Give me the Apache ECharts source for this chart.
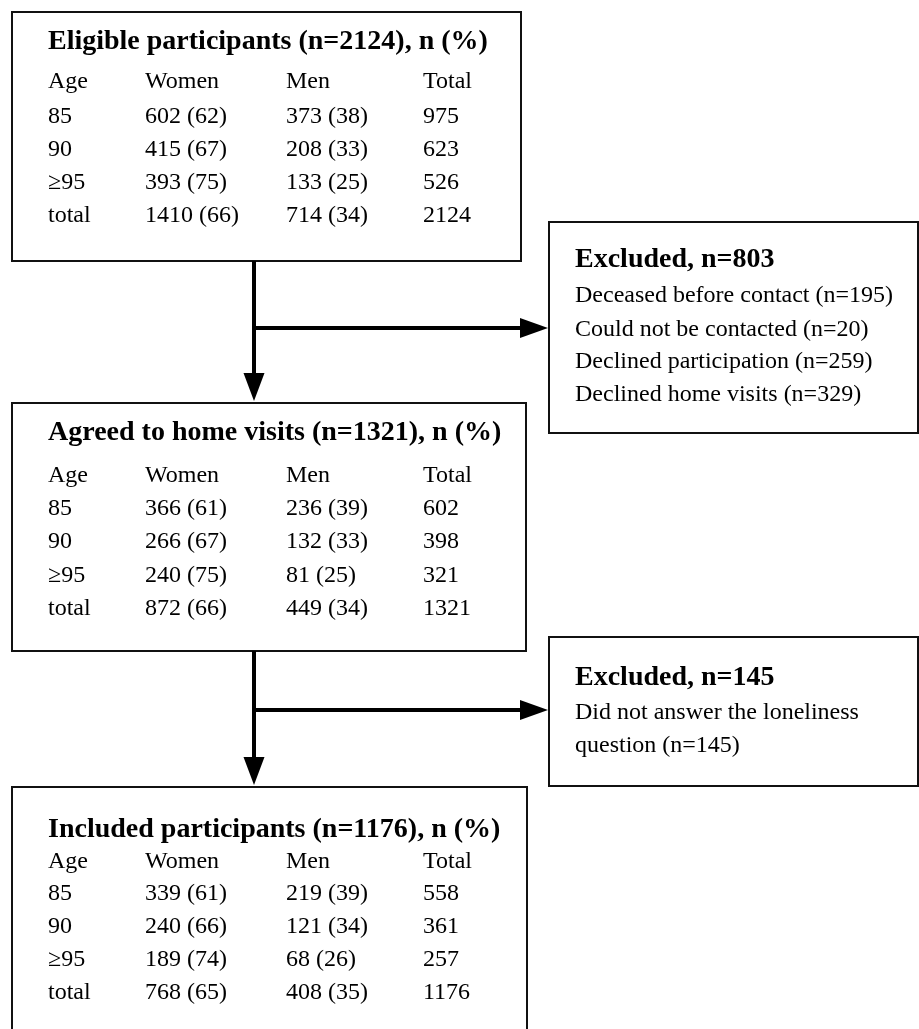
<!DOCTYPE html>
<html>
<head>
<meta charset="utf-8">
<script src="https://cdn.jsdelivr.net/npm/echarts@6/dist/echarts.min.js"></script>
<style>
html,body{margin:0;padding:0;background:#fff;}
#main{width:919px;height:1029px;}
</style>
</head>
<body>
<div id="main"></div>
<script>
// ---- data ----
const columnHeaders = ['Age', 'Women', 'Men', 'Total'];
const ageGroups = ['85', '90', '\u226595', 'total'];

const eligibleTitle = 'Eligible participants (n=2124), n (%)';
const eligibleWomen = [602, 415, 393, 1410];
const eligibleWomenPct = [62, 67, 75, 66];
const eligibleMen = [373, 208, 133, 714];
const eligibleMenPct = [38, 33, 25, 34];
const eligibleTotal = [975, 623, 526, 2124];

const agreedTitle = 'Agreed to home visits (n=1321), n (%)';
const agreedWomen = [366, 266, 240, 872];
const agreedWomenPct = [61, 67, 75, 66];
const agreedMen = [236, 132, 81, 449];
const agreedMenPct = [39, 33, 25, 34];
const agreedTotal = [602, 398, 321, 1321];

const includedTitle = 'Included participants (n=1176), n (%)';
const includedWomen = [339, 240, 189, 768];
const includedWomenPct = [61, 66, 74, 65];
const includedMen = [219, 121, 68, 408];
const includedMenPct = [39, 34, 26, 35];
const includedTotal = [558, 361, 257, 1176];

const excluded1Title = 'Excluded, n=803';
const excluded1Reasons = ['Deceased before contact', 'Could not be contacted', 'Declined participation', 'Declined home visits'];
const excluded1Counts = [195, 20, 259, 329];

const excluded2Title = 'Excluded, n=145';
const excluded2Reasons = ['Did not answer the loneliness question'];
const excluded2Counts = [145];

// ---- layout ----
const FONT = '"Liberation Serif", "Times New Roman", serif';
const colX = [48, 145, 286, 423];
const els = [];

function rect(x, y, w, h) {
  els.push({ type: 'rect', shape: { x: x, y: y, width: w, height: h },
    style: { fill: '#fff', stroke: '#111', lineWidth: 2 }, z: 1 });
}
function text(str, x, y, size, bold, extra) {
  const st = { text: str, x: x, y: y, fill: '#000', align: 'left', verticalAlign: 'middle',
    font: (bold ? 'bold ' : '') + size + 'px ' + FONT };
  if (extra) Object.assign(st, extra);
  els.push({ type: 'text', style: st, z: 5 });
}
function table(top, titleY, rowYs, title, w, wp, m, mp, t) {
  rect(12, top, 515, 1029 - top + 20);
  text(title, 48, titleY, 28, true);
  columnHeaders.forEach((h, i) => text(h, colX[i], rowYs[0], 24, false));
  ageGroups.forEach((g, r) => {
    const y = rowYs[r + 1];
    text(g, colX[0], y, 24, false);
    text(w[r] + ' (' + wp[r] + ')', colX[1], y, 24, false);
    text(m[r] + ' (' + mp[r] + ')', colX[2], y, 24, false);
    text(String(t[r]), colX[3], y, 24, false);
  });
}
function box(top, h, title, titleY, reasons, counts, lineYs, wrapWidth) {
  els.push({ type: 'rect', shape: { x: 549, y: top, width: 369, height: h },
    style: { fill: '#fff', stroke: '#111', lineWidth: 2 }, z: 1 });
  text(title, 575, titleY, 28, true);
  reasons.forEach((r, i) => {
    const extra = wrapWidth ? { width: wrapWidth, overflow: 'break', lineHeight: 33, verticalAlign: 'top' } : null;
    text(r + ' (n=' + counts[i] + ')', 575, wrapWidth ? lineYs[i] - 16 : lineYs[i], 24, false, extra);
  });
}
function arrow(xV, y0, y1, yH, xH) {
  els.push({ type: 'line', shape: { x1: xV, y1: y0, x2: xV, y2: y1 - 26 }, style: { stroke: '#000', lineWidth: 4 }, z: 3 });
  els.push({ type: 'polygon', shape: { points: [[xV - 10.5, y1 - 30], [xV + 10.5, y1 - 30], [xV, y1 - 2]] }, style: { fill: '#000' }, z: 3 });
  els.push({ type: 'line', shape: { x1: xV, y1: yH, x2: xH - 26, y2: yH }, style: { stroke: '#000', lineWidth: 4 }, z: 3 });
  els.push({ type: 'polygon', shape: { points: [[xH - 29, yH - 10], [xH - 29, yH + 10], [xH - 1, yH]] }, style: { fill: '#000' }, z: 3 });
}

// box 1 (top box drawn with its own height)
els.push({ type: 'rect', shape: { x: 12, y: 12, width: 509, height: 249 }, style: { fill: '#fff', stroke: '#111', lineWidth: 2 }, z: 1 });
text(eligibleTitle, 48, 42, 28, true);
columnHeaders.forEach((h, i) => text(h, colX[i], 82, 24, false));
[117, 150, 183, 216].forEach((y, r) => {
  text(ageGroups[r], colX[0], y, 24, false);
  text(eligibleWomen[r] + ' (' + eligibleWomenPct[r] + ')', colX[1], y, 24, false);
  text(eligibleMen[r] + ' (' + eligibleMenPct[r] + ')', colX[2], y, 24, false);
  text(String(eligibleTotal[r]), colX[3], y, 24, false);
});

// box 2
els.push({ type: 'rect', shape: { x: 12, y: 403, width: 514, height: 248 }, style: { fill: '#fff', stroke: '#111', lineWidth: 2 }, z: 1 });
text(agreedTitle, 48, 433, 28, true);
columnHeaders.forEach((h, i) => text(h, colX[i], 476, 24, false));
[509, 542, 576, 609].forEach((y, r) => {
  text(ageGroups[r], colX[0], y, 24, false);
  text(agreedWomen[r] + ' (' + agreedWomenPct[r] + ')', colX[1], y, 24, false);
  text(agreedMen[r] + ' (' + agreedMenPct[r] + ')', colX[2], y, 24, false);
  text(String(agreedTotal[r]), colX[3], y, 24, false);
});

// box 3
table(787, 830, [862, 894, 927, 960, 993], includedTitle, includedWomen, includedWomenPct, includedMen, includedMenPct, includedTotal);

// excluded boxes
box(222, 211, excluded1Title, 260, excluded1Reasons, excluded1Counts, [296, 330, 362, 395]);
box(637, 149, excluded2Title, 678, excluded2Reasons, excluded2Counts, [712], 330);

// arrows
arrow(254, 261, 403, 328, 549);
arrow(254, 651, 787, 710, 549);

const chart = echarts.init(document.getElementById('main'), null, { renderer: 'canvas' });
chart.setOption({ backgroundColor: '#fff', animation: false, graphic: { elements: els } });
</script>
</body>
</html>
